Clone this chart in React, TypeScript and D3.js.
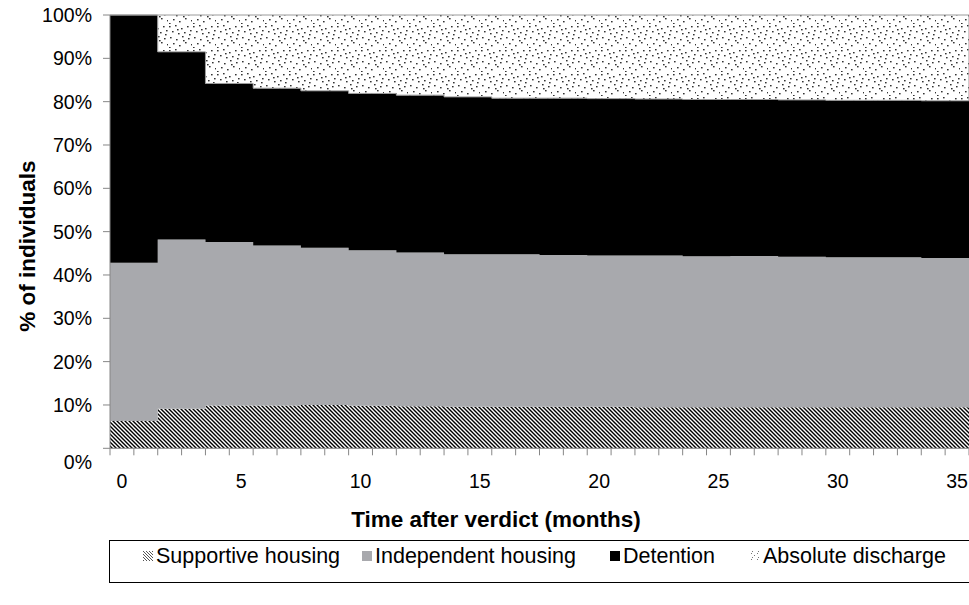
import React from "react";
import * as d3 from "d3";

// Period start months (each period covers 2 months)
const periodStarts = [0, 2, 4, 6, 8, 10, 12, 14, 16, 18, 20, 22, 24, 26, 28, 30, 32, 34];
const supportive = [6.3, 9.1, 9.9, 9.9, 10.0, 9.8, 9.7, 9.6, 9.6, 9.6, 9.6, 9.5, 9.5, 9.5, 9.5, 9.5, 9.5, 9.5];
const independent = [36.5, 39.1, 37.7, 36.9, 36.3, 35.9, 35.5, 35.2, 35.2, 35.0, 34.9, 35.0, 34.8, 34.9, 34.7, 34.6, 34.6, 34.4];
const detention = [57.2, 43.3, 36.6, 36.3, 36.2, 36.2, 36.3, 36.3, 36.0, 36.2, 36.2, 36.1, 36.2, 36.1, 36.2, 36.2, 36.2, 36.3];
const absolute = [0, 8.5, 15.8, 16.9, 17.5, 18.1, 18.5, 18.9, 19.2, 19.2, 19.3, 19.4, 19.5, 19.5, 19.6, 19.7, 19.7, 19.8];

const seriesKeys = ["supportive", "independent", "detention", "absolute"];
const seriesNames = ["Supportive housing", "Independent housing", "Detention", "Absolute discharge"];
const yTicks = [0, 10, 20, 30, 40, 50, 60, 70, 80, 90, 100];
const xLabels = [0, 5, 10, 15, 20, 25, 30, 35];
const totalMonths = 36;

const dotPositions: [number, number][] = [
  [1, 2], [7, 1], [13, 4], [19, 2], [4, 7], [10, 9], [16, 8], [22, 6],
  [2, 13], [8, 15], [14, 12], [20, 14], [5, 19], [11, 21], [17, 18], [23, 20],
  [1, 23], [9, 5], [15, 16], [21, 10],
];

const FONT = "'Liberation Sans', Arial, Helvetica, sans-serif";

export default function App() {
  const left = 110, right = 969, top = 15, bottom = 448.3;
  const x = d3.scaleLinear().domain([0, totalMonths]).range([left, right]);
  const y = d3.scaleLinear().domain([0, 100]).range([bottom, top]);

  const rows = periodStarts.map((m, i) => ({
    month: m,
    supportive: supportive[i],
    independent: independent[i],
    detention: detention[i],
    absolute: absolute[i],
  }));
  const last = rows[rows.length - 1];
  const rowsExt = [...rows, { ...last, month: totalMonths }];

  const stack = d3.stack<any>().keys(seriesKeys);
  const stacked = stack(rowsExt);

  const area = d3
    .area<any>()
    .x((d) => x(d.data.month))
    .y0((d) => y(d[0]))
    .y1((d) => y(Math.min(100, d[1])))
    .curve(d3.curveStepAfter);

  const fills = ["url(#hatch)", "#a8a9ad", "#000000", "url(#dots)"];

  const legendX = [143, 362, 610, 750];

  const monthTicks = d3.range(0, totalMonths + 1);

  return (
    <svg
      width={969}
      height={605}
      style={{ position: "absolute", left: 0, top: 0, background: "#fff" }}
      fontFamily={FONT}
    >
      <defs>
        <pattern id="hatch" patternUnits="userSpaceOnUse" width={4} height={4}>
          <rect width={4} height={4} fill="#fff" />
          <path d="M-1,-1 L5,5 M-1,3 L1,5 M3,-1 L5,1" stroke="#000" strokeWidth={1.4} />
        </pattern>
        <pattern id="dots" patternUnits="userSpaceOnUse" width={24} height={24}>
          <rect width={24} height={24} fill="#fff" />
          {dotPositions.map(([px, py], i) => (
            <rect key={i} x={px} y={py} width={1.6} height={1.4} fill="#333" />
          ))}
        </pattern>
        <pattern id="hatchSmall" patternUnits="userSpaceOnUse" width={3} height={3}>
          <rect width={3} height={3} fill="#fff" />
          <path d="M-1,-1 L4,4 M-1,2 L1,4 M2,-1 L4,1" stroke="#555" strokeWidth={1} />
        </pattern>
        <pattern id="dotsSmall" patternUnits="userSpaceOnUse" width={6} height={6}>
          <rect width={6} height={6} fill="#fff" />
          <rect x={1} y={1} width={1} height={1} fill="#777" />
          <rect x={4} y={3} width={1} height={1} fill="#777" />
          <rect x={2} y={5} width={1} height={1} fill="#777" />
        </pattern>
      </defs>

      {stacked.map((s, i) => (
        <path
          key={s.key}
          d={area(s as any) || ""}
          fill={fills[i]}
          stroke={i === 3 ? "#9a9a9a" : "none"}
          strokeWidth={i === 3 ? 1 : 0}
        />
      ))}

      {/* Y axis */}
      <line x1={left} x2={left} y1={top} y2={bottom} stroke="#868686" strokeWidth={1} />
      {yTicks.map((t) => (
        <g key={t}>
          <line x1={left - 7} x2={left} y1={y(t)} y2={y(t)} stroke="#868686" strokeWidth={1} />
          <text
            x={92}
            y={t === 0 ? 462 : y(t)}
            textAnchor="end"
            dominantBaseline="central"
            fontSize={19.5}
            fill="#000"
          >
            {t}%
          </text>
        </g>
      ))}

      {/* X axis */}
      <line x1={left} x2={right} y1={bottom} y2={bottom} stroke="#868686" strokeWidth={1} />
      {monthTicks.map((m) => (
        <line key={m} x1={x(m)} x2={x(m)} y1={bottom} y2={bottom + 7} stroke="#868686" strokeWidth={1} />
      ))}
      {xLabels.map((m) => (
        <text
          key={m}
          x={x(m + 0.5)}
          y={481}
          textAnchor="middle"
          dominantBaseline="central"
          fontSize={19.5}
          fill="#000"
        >
          {m}
        </text>
      ))}

      {/* Axis titles */}
      <text
        x={496}
        y={519}
        textAnchor="middle"
        dominantBaseline="central"
        fontSize={22.5}
        fontWeight="bold"
      >
        Time after verdict (months)
      </text>
      <text
        transform={`translate(27,246) rotate(-90)`}
        textAnchor="middle"
        dominantBaseline="central"
        fontSize={22.5}
        fontWeight="bold"
      >
        % of individuals
      </text>

      {/* Legend */}
      <rect x={109.5} y={540.5} width={870} height={42} fill="none" stroke="#000" strokeWidth={1} />
      {seriesNames.map((name, i) => {
        const lx = legendX[i];
        const sw = i === 0 ? "url(#hatchSmall)" : i === 1 ? "#a8a9ad" : i === 2 ? "#000" : "url(#dotsSmall)";
        return (
          <g key={name}>
            <rect x={lx} y={551} width={10} height={10} fill={sw} />
            <text x={lx + 13} y={556} dominantBaseline="central" fontSize={21.5} fill="#000">
              {name}
            </text>
          </g>
        );
      })}
    </svg>
  );
}
